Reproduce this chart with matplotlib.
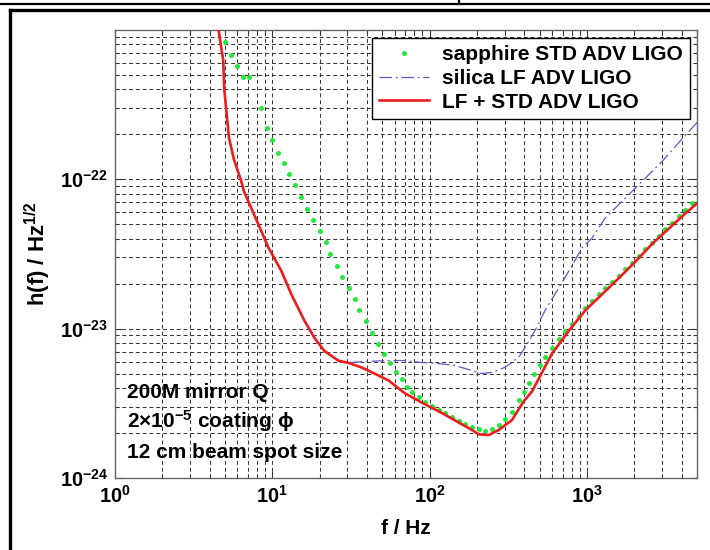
import matplotlib
matplotlib.use("Agg")
import matplotlib.pyplot as plt
from matplotlib.lines import Line2D
from matplotlib.ticker import FixedLocator, FixedFormatter, LogLocator, NullFormatter

plt.rcParams['font.family'] = ['Liberation Sans', 'DejaVu Sans']
plt.rcParams['mathtext.fontset'] = 'custom'
plt.rcParams['mathtext.rm'] = 'Liberation Sans'
plt.rcParams['mathtext.bf'] = 'Liberation Sans:bold'
plt.rcParams['mathtext.it'] = 'Liberation Sans:italic'

# ---- data ----
red_f = [4.55, 4.87, 4.95, 5.1, 5.3, 5.7, 6.35, 6.6, 8.15, 9.43, 11.4, 13.2, 16.0, 18.5,
         21.4, 26.3, 30.5, 36.9, 44.7, 54.8, 69.3, 89, 114, 144, 185, 205, 238, 275,
         333, 395, 447, 599, 768, 971, 1247, 1600, 2023, 2596, 3327, 4210, 5000]
red_h = [1.0e-21, 6.3e-22, 4.0e-22, 2.9e-22, 1.9e-22, 1.36e-22, 9.7e-23, 8.3e-23, 5.0e-23,
         3.5e-23, 2.44e-23, 1.7e-23, 1.13e-23, 8.7e-24, 7.1e-24, 6.1e-24, 5.9e-24, 5.5e-24,
         5.0e-24, 4.5e-24, 3.7e-24, 3.2e-24, 2.8e-24, 2.44e-24, 2.1e-24, 1.96e-24, 1.94e-24,
         2.1e-24, 2.44e-24, 3.25e-24, 3.8e-24, 6.8e-24, 9.7e-24, 1.32e-23, 1.7e-23, 2.19e-23,
         2.8e-23, 3.7e-23, 4.7e-23, 5.9e-23, 6.9e-23]

green_f = [5.02, 5.48, 5.99, 6.54, 7.14, 8.51, 9.29, 10.0, 10.92, 11.92, 12.83, 14.0, 15.3,
           16.7, 18.2, 20.2, 21.8, 23.4, 25.6, 27.9, 30.5, 33.3, 35.8, 39.1, 42.7, 46.6,
           50.9, 55.6, 60.7, 66.3, 71.4, 76.8, 85.1, 92.9, 103, 114, 125, 138, 153, 167,
           185, 205, 224, 248, 275, 300, 333, 369, 397, 427, 460, 502, 540, 598, 663, 724,
           802, 889, 971, 1076, 1192, 1303, 1443, 1600, 1746, 1936, 2145, 2341, 2594, 2874,
           3141, 3478, 3855, 4210, 4665]
green_h = [8.32e-22, 6.81e-22, 5.75e-22, 4.86e-22, 4.86e-22, 3.02e-22, 2.22e-22, 1.82e-22,
           1.51e-22, 1.28e-22, 1.08e-22, 9.12e-23, 7.59e-23, 6.31e-23, 5.33e-23, 4.5e-23,
           3.8e-23, 3.16e-23, 2.63e-23, 2.22e-23, 1.88e-23, 1.58e-23, 1.34e-23, 1.13e-23,
           9.4e-24, 7.94e-24, 6.81e-24, 5.93e-24, 5.09e-24, 4.57e-24, 4.04e-24, 3.74e-24,
           3.47e-24, 3.21e-24, 3.02e-24, 2.84e-24, 2.71e-24, 2.55e-24, 2.4e-24, 2.29e-24,
           2.19e-24, 2.12e-24, 2.06e-24, 2.12e-24, 2.26e-24, 2.47e-24, 2.75e-24, 3.31e-24,
           3.74e-24, 4.3e-24, 4.94e-24, 5.75e-24, 6.5e-24, 7.47e-24, 8.58e-24, 9.7e-24,
           1.08e-23, 1.22e-23, 1.38e-23, 1.54e-23, 1.71e-23, 1.88e-23, 2.06e-23, 2.26e-23,
           2.51e-23, 2.75e-23, 3.07e-23, 3.41e-23, 3.74e-23, 4.17e-23, 4.64e-23, 5.09e-23,
           5.66e-23, 6.21e-23, 6.92e-23]

blue_f = [4.55, 4.87, 4.95, 5.1, 5.3, 5.7, 6.35, 6.6, 8.15, 9.43, 11.4, 13.2, 16.0, 18.5,
          21.4, 26.3, 30.5, 39.7, 54.8, 69.3, 89, 114, 144, 185, 214, 248, 300, 333, 374,
          403, 467, 540, 644, 768, 929, 1076, 1303, 1746, 2145, 3006, 4027, 5000]
blue_h = [1.0e-21, 6.3e-22, 4.0e-22, 2.9e-22, 1.9e-22, 1.36e-22, 9.7e-23, 8.3e-23, 5.0e-23,
          3.5e-23, 2.44e-23, 1.7e-23, 1.13e-23, 8.7e-24, 7.1e-24, 6.1e-24, 5.93e-24, 6.03e-24,
          6.12e-24, 6.12e-24, 5.93e-24, 5.84e-24, 5.67e-24, 5.25e-24, 5.01e-24, 5.09e-24,
          5.5e-24, 5.93e-24, 6.6e-24, 7.47e-24, 9.7e-24, 1.32e-23, 1.79e-23, 2.44e-23,
          3.47e-23, 4.04e-23, 5.5e-23, 7.47e-23, 9.26e-23, 1.32e-22, 1.87e-22, 2.4e-22]

legend_labels = ["sapphire STD ADV LIGO", "silica LF ADV LIGO", "LF + STD ADV LIGO"]
x_ticks = [1, 10, 100, 1000]
x_ticklabels = [r'$\mathbf{10^{0}}$', r'$\mathbf{10^{1}}$', r'$\mathbf{10^{2}}$', r'$\mathbf{10^{3}}$']
y_ticks = [1e-24, 1e-23, 1e-22]
y_ticklabels = [r'$\mathbf{10^{-24}}$', r'$\mathbf{10^{-23}}$', r'$\mathbf{10^{-22}}$']
notes = ["200M mirror Q", r'$\mathbf{2{\times}10^{-5}}$ coating $\mathbf{\phi}$', "12 cm beam spot size"]

# ---- figure ----
W, H = 710, 550
fig = plt.figure(figsize=(W / 100, H / 100), dpi=100)
fig.patch.set_facecolor('white')

# outer frame lines (page artefacts)
fig.add_artist(Line2D([10 / W, 10 / W], [0, 1 - 10 / H], color='black', lw=2.4))
fig.add_artist(Line2D([10 / W, 1], [1 - 10 / H, 1 - 10 / H], color='black', lw=2.4))
fig.add_artist(Line2D([0, 1], [1 - 4 / H, 1 - 4 / H], color='black', lw=1.6))
fig.add_artist(Line2D([459 / W, 459 / W], [1 - 4 / H, 1], color='black', lw=1.6))

ax = fig.add_axes([115 / W, 1 - 478 / H, (697 - 115) / W, (478 - 30) / H])
ax.set_xscale('log')
ax.set_yscale('log')
ax.set_xlim(1, 5000)
ax.set_ylim(1e-24, 1e-21)

gkw = dict(color='#303030', lw=0.7, linestyle=(0, (4, 3)))
ax.grid(True, which='major', **gkw)
ax.grid(True, which='minor', **gkw)
ax.set_axisbelow(True)

l_green, = ax.plot(green_f, green_h, linestyle='none', marker='o', ms=3.6,
                   color='#22e83a', mec='none', zorder=4)
l_blue, = ax.plot(blue_f, blue_h, linestyle=(0, (10, 3, 1.5, 3)), color='#5a5ac8',
                  lw=0.9, zorder=3)
l_red, = ax.plot(red_f, red_h, color='#ee1c1c', lw=1.9, zorder=5)

ax.xaxis.set_major_locator(FixedLocator(x_ticks))
ax.xaxis.set_major_formatter(FixedFormatter(x_ticklabels))
ax.yaxis.set_major_locator(FixedLocator(y_ticks))
ax.yaxis.set_major_formatter(FixedFormatter(y_ticklabels))
ax.xaxis.set_minor_locator(LogLocator(base=10, subs=range(2, 10), numticks=20))
ax.yaxis.set_minor_locator(LogLocator(base=10, subs=range(2, 10), numticks=20))
ax.xaxis.set_minor_formatter(NullFormatter())
ax.yaxis.set_minor_formatter(NullFormatter())
ax.tick_params(which='both', direction='in', top=True, right=True, color='#333333', width=0.8)
ax.tick_params(which='major', length=5, labelsize=14.5, pad=5)
ax.tick_params(which='minor', length=3)
for s in ax.spines.values():
    s.set_color('#666666')
    s.set_linewidth(1.0)

ax.set_xlabel('f / Hz', fontsize=15, fontweight='bold', labelpad=9)
ax.set_ylabel(r'$\mathbf{h(f)\ /\ Hz^{1/2}}$', fontsize=16, labelpad=5)

leg = ax.legend([l_green, l_blue, l_red], legend_labels, loc='upper right',
                bbox_to_anchor=(0.988, 0.982), borderaxespad=0,
                prop={'weight': 'bold', 'size': 15}, numpoints=1, handlelength=2.4,
                handletextpad=0.6, labelspacing=0.22, borderpad=0.35, fancybox=False,
                framealpha=1, edgecolor='black')
leg.get_frame().set_linewidth(1.0)
leg.set_zorder(10)

note_y = [393, 421, 452]
for txt, yp in zip(notes, note_y):
    ax.text((127 - 115) / (697 - 115), (478 - yp) / (478 - 30), txt,
            transform=ax.transAxes, fontsize=15, fontweight='bold', va='center', ha='left',
            zorder=6)

fig.savefig('out.png', dpi=100)
